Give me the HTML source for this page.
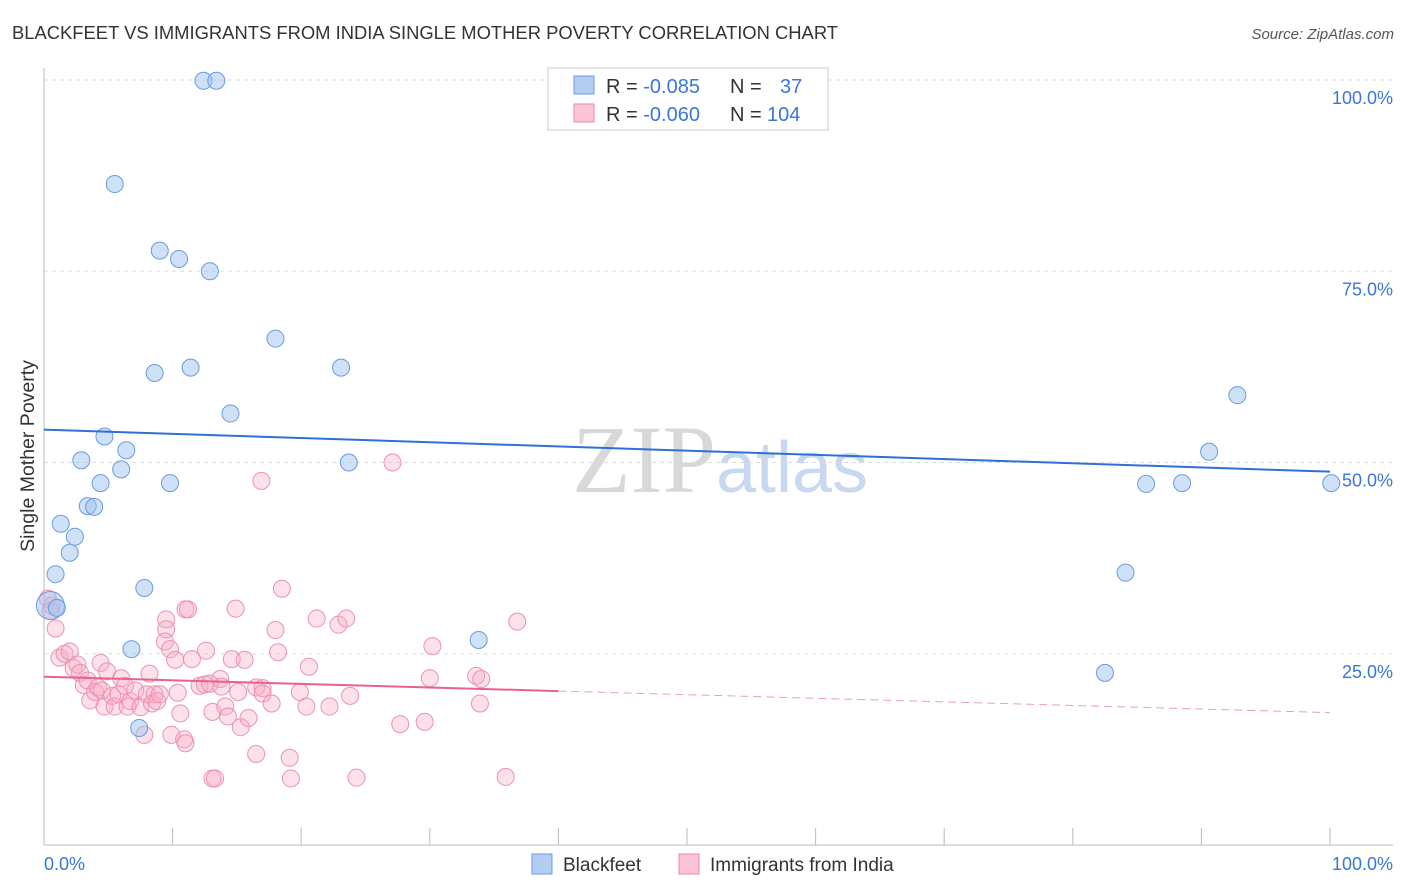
<!DOCTYPE html>
<html><head><meta charset="utf-8"><style>
body{margin:0;background:#fff;font-family:"Liberation Sans",sans-serif}
svg{display:block}
</style></head><body>
<svg id="chart" width="1406" height="892">
<text x="12" y="39" font-size="18.4" fill="#333">BLACKFEET VS IMMIGRANTS FROM INDIA SINGLE MOTHER POVERTY CORRELATION CHART</text>
<text x="1394" y="39" font-size="15" fill="#555" font-style="italic" text-anchor="end">Source: ZipAtlas.com</text>
<text x="720" y="492" font-size="96" fill="#d8d8d8" text-anchor="middle" font-family="Liberation Serif,serif">ZIP<tspan fill="#c8d8f0" font-family="Liberation Sans,sans-serif" font-size="72">atlas</tspan></text>
<g id="grid"></g><g id="axes"></g><g id="pts"></g><g id="trend"></g>
<text transform="translate(34,456) rotate(-90)" font-size="19.5" fill="#333" text-anchor="middle">Single Mother Poverty</text>
<g>
<rect x="548" y="68" width="280" height="62" fill="#fff" stroke="#ccc"/>
<rect x="574" y="76" width="20" height="18" fill="#b3cdf3" stroke="#6a9be0"/>
<rect x="574" y="104" width="20" height="18" fill="#fbc5d5" stroke="#e88aa8"/>
<text x="606" y="93" font-size="20" fill="#333">R = <tspan fill="#3b76d6">-0.085</tspan><tspan x="730">N = </tspan><tspan x="780" fill="#3b76d6">37</tspan></text>
<text x="606" y="121" font-size="20" fill="#333">R = <tspan fill="#3b76d6">-0.060</tspan><tspan x="730">N = </tspan><tspan x="767" fill="#3b76d6">104</tspan></text>
</g>
<g>
<rect x="532" y="854" width="20" height="20" fill="#b3cdf3" stroke="#6a9be0"/>
<text x="563" y="871" font-size="19" fill="#333">Blackfeet</text>
<rect x="679" y="854" width="20" height="20" fill="#fbc5d5" stroke="#e88aa8"/>
<text x="710" y="871" font-size="19" fill="#333">Immigrants from India</text>
</g>
</svg>
<script>
const yTicks=[25,50,75,100];
const yTickLabels=["25.0%","50.0%","75.0%","100.0%"];
const xTickLabels=["0.0%","100.0%"];
const blueX=[12.4,13.4,5.5,9.0,10.5,12.9,18.0,23.1,8.6,11.4,14.5,4.7,6.4,2.9,23.7,6.0,4.4,9.8,3.4,3.9,1.3,2.4,2.0,0.9,7.8,6.8,33.8,7.4,92.8,90.6,85.7,88.5,100.1,84.1,82.5,0.5,1.0];
const blueY=[99.9,99.9,86.4,77.7,76.6,75.0,66.2,62.4,61.7,62.4,56.4,53.4,51.6,50.3,50.0,49.1,47.3,47.3,44.3,44.2,42.0,40.3,38.2,35.4,33.6,25.6,26.8,15.3,58.8,51.4,47.2,47.3,47.3,35.6,22.5,31.3,31.0];
const pinkX=[0.6,0.9,0.3,1.2,1.6,2.0,2.3,2.6,2.8,3.1,3.4,3.6,3.970,4.2,4.5,4.4,4.7,4.9,5.3,5.5,5.8,6.0,6.3,6.5,6.7,7.1,7.5,7.8,8.0,8.2,8.4,8.6,8.8,9.0,9.5,9.5,9.4,9.8,10.2,10.4,10.6,9.9,11.0,11.2,11.5,10.9,11.0,12.1,12.6,12.5,12.9,13.1,13.3,13.1,13.7,13.8,14.1,14.3,14.6,14.9,15.1,15.3,15.6,15.9,16.5,16.5,17.0,16.9,17.0,17.7,18.0,18.2,18.5,19.1,19.2,19.9,20.4,20.6,21.2,22.2,22.9,23.5,23.8,24.3,27.1,27.7,29.6,30.2,30.0,33.6,34.0,33.9,35.9,36.8,0.5];
const pinkY=[31.3,28.3,32.2,24.5,25.0,25.3,23.1,23.6,22.5,20.9,21.5,18.9,20.0,20.6,20.2,23.8,18.1,22.7,19.5,18.1,19.7,21.8,20.8,18.1,18.8,20.2,18.0,14.4,19.7,22.4,18.5,19.7,18.8,19.7,29.5,28.2,26.6,25.6,24.2,19.9,17.2,14.4,30.8,30.8,24.3,13.8,13.3,20.8,25.4,21.0,21.1,8.7,8.7,17.4,21.7,20.7,18.1,16.8,24.3,30.9,20.0,15.4,24.2,16.6,11.9,20.6,20.5,47.6,19.8,18.5,28.1,25.2,33.5,11.4,8.7,20.0,18.1,23.3,29.6,18.1,28.8,29.6,19.5,8.8,50.0,15.8,16.1,26.0,21.8,22.1,21.7,18.5,8.9,29.2,30.6];
const blueTrend=[54.3,48.8], pinkTrend=[22.0,17.3];
const X0=44,X1=1330,Y0=845,Y1=80;
const sx=v=>X0+(X1-X0)*v/100, sy=v=>Y0-(Y0-Y1)*v/100;
const NS="http://www.w3.org/2000/svg";
function mk(t,a,p){const e=document.createElementNS(NS,t);for(const k in a)e.setAttribute(k,a[k]);p.appendChild(e);return e;}
const grid=document.getElementById('grid'),axes=document.getElementById('axes'),pts=document.getElementById('pts'),tr=document.getElementById('trend');
yTicks.forEach((v,i)=>{
 const l=mk('line',{x1:X0,x2:1393,y1:sy(v),y2:sy(v),stroke:'#ddd','stroke-dasharray':'4,4'},grid);
 
 
 const t=mk('text',{x:1393,y:sy(v)+24,'font-size':18,fill:'#3b76d6','text-anchor':'end'},grid);
 t.textContent=yTickLabels[i];
 
 
});
const ya=mk('line',{x1:X0,x2:X0,y1:68,y2:Y0,stroke:'#bbb'},axes);


const xa=mk('line',{x1:X0,x2:1393,y1:Y0,y2:Y0,stroke:'#bbb'},axes);


for(let i=0;i<=10;i++){
 const tk=mk('line',{x1:sx(i*10),x2:sx(i*10),y1:828,y2:Y0,stroke:'#bbb'},axes);
 
 
}
[[0,'start',X0],[1,'end',1393]].forEach(([i,a,x])=>{
 const t=mk('text',{x:x,y:870,'font-size':18,fill:'#3b76d6','text-anchor':a},axes);
 t.textContent=xTickLabels[i];
 
 
});
pinkX.forEach((x,i)=>{
 const c=mk('circle',{cx:sx(x),cy:sy(pinkY[i]),r:8.5,fill:'rgba(248,170,195,0.35)',stroke:'#eb92b0','stroke-width':1},pts);
 
 
});
blueX.forEach((x,i)=>{
 const c=mk('circle',{cx:sx(x),cy:sy(blueY[i]),r:(i==35?14:8.5),fill:'rgba(160,196,240,0.5)',stroke:'#6a9be0','stroke-width':1},pts);
 
 
});
const bl=mk('line',{x1:sx(0),y1:sy(blueTrend[0]),x2:sx(100),y2:sy(blueTrend[1]),stroke:'#2f6fd6','stroke-width':2},tr);


const pm=pinkTrend[0]+(pinkTrend[1]-pinkTrend[0])*0.4;
const pl=mk('line',{x1:sx(0),y1:sy(pinkTrend[0]),x2:sx(40),y2:sy(pm),stroke:'#e8608e','stroke-width':2},tr);


const pd=mk('line',{x1:sx(40),y1:sy(pm),x2:sx(100),y2:sy(pinkTrend[1]),stroke:'#e8a0b8','stroke-width':1,'stroke-dasharray':'8,5'},tr);


</script>
</body></html>
